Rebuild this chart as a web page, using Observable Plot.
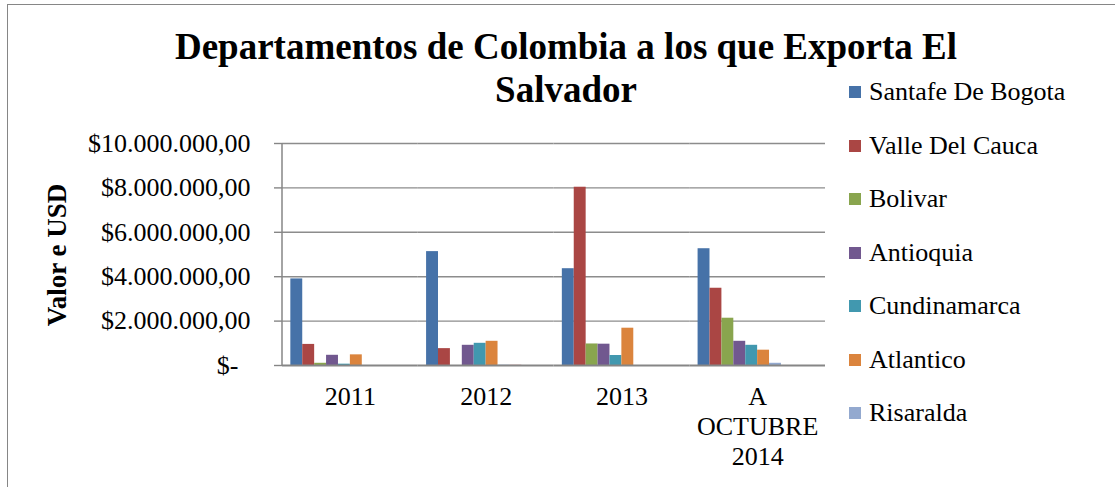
<!DOCTYPE html>
<html>
<head>
<meta charset="utf-8">
<script src="https://cdn.jsdelivr.net/npm/d3@7"></script>
<script src="https://cdn.jsdelivr.net/npm/@observablehq/plot@0.6"></script>
<style>
  html, body { margin: 0; padding: 0; background: #fff; }
  body { width: 1115px; height: 487px; overflow: hidden; position: relative; font-family: "Liberation Serif", "Times New Roman", serif; }
  #frame { position: absolute; left: 7px; top: 4px; width: 1120px; height: 500px; border: 1.5px solid #868686; box-sizing: border-box; }
  #chart { position: absolute; left: 0; top: 0; }
  #title { position: absolute; left: 66px; width: 1000px; top: 25px; text-align: center; font-family: "Liberation Serif", serif; font-weight: bold; font-size: 37px; line-height: 43px; color: #000; white-space: nowrap; }
  #ytitle { position: absolute; left: 57px; top: 255px; transform: translate(-50%, -50%) rotate(-90deg); font-family: "Liberation Serif", serif; font-weight: bold; font-size: 27px; white-space: nowrap; color: #000; }
  #legend { position: absolute; left: 849px; top: 0; }
  .row { position: absolute; left: 0; height: 30px; display: flex; align-items: center; white-space: nowrap; font-family: "Liberation Serif", serif; font-size: 26px; color: #000; }
  .row span { font-family: "Liberation Serif", serif; }
  .sw { width: 12px; height: 12px; margin-right: 8px; flex: none; }
</style>
</head>
<body>
<div id="frame"></div>
<div id="chart"></div>
<div id="title">Departamentos de Colombia a los que Exporta El<br>Salvador</div>
<div id="ytitle">Valor e USD</div>
<div id="legend"></div>
<script>
// ---- Data ----
const years = ["2011", "2012", "2013", "A OCTUBRE 2014"];
const seriesNames = ["Santafe De Bogota", "Valle Del Cauca", "Bolivar", "Antioquia", "Cundinamarca", "Atlantico", "Risaralda", "Serie 8", "Serie 9", "Serie 10"];
const santafeDeBogota = [3900000, 5130000, 4360000, 5260000];
const valleDelCauca   = [950000, 760000, 8030000, 3480000];
const bolivar         = [100000, 0, 970000, 2130000];
const antioquia       = [460000, 910000, 960000, 1090000];
const cundinamarca    = [60000, 1000000, 450000, 910000];
const atlantico       = [480000, 1090000, 1680000, 690000];
const risaralda       = [0, 15000, 0, 100000];
const serie8          = [0, 15000, 0, 0];
const serie9          = [0, 0, 0, 0];
const serie10         = [0, 0, 0, 0];
const seriesColors = ["#4672A8", "#AA4644", "#89A54E", "#71588F", "#4198AF", "#DB843D", "#93A9CF", "#D19392", "#B9CD96", "#A99BBD"];
const yTicks = [2000000, 4000000, 6000000, 8000000, 10000000];
const legendCount = 7; // only the first 7 entries fit in the reference legend

// ---- Build table ----
const seriesValues = [santafeDeBogota, valleDelCauca, bolivar, antioquia, cundinamarca, atlantico, risaralda, serie8, serie9, serie10];
const data = [];
seriesNames.forEach((s, si) => years.forEach((y, yi) => data.push({year: y, series: s, value: seriesValues[si][yi]})));

const loc = d3.formatLocale({decimal: ",", thousands: ".", grouping: [3], currency: ["$", ""]});
const fmt = loc.format("$,.2f");

let axisLineDrawn = false;
const leftAxisLine = (index, scales, values, dims) => {
  if (axisLineDrawn) return null;
  axisLineDrawn = true;
  const g = d3.create("svg:line")
    .attr("x1", dims.marginLeft).attr("x2", dims.marginLeft)
    .attr("y1", dims.marginTop).attr("y2", dims.height - dims.marginBottom)
    .attr("stroke", "#868686").attr("stroke-width", 1.5);
  return g.node();
};

const chart = Plot.plot({
  width: 1115,
  height: 487,
  marginLeft: 282,
  marginRight: 290,
  marginTop: 143,
  marginBottom: 122,
  style: {fontFamily: "Liberation Serif, Times New Roman, serif", fontSize: "26px", color: "#000", background: "transparent", overflow: "visible"},
  fx: {domain: years, padding: 0, round: false, axis: null, label: null},
  x: {domain: seriesNames, paddingInner: 0, paddingOuter: 0.7, round: false, axis: null, label: null},
  y: {domain: [0, 10000000], axis: null, label: null},
  color: {domain: seriesNames, range: seriesColors},
  marks: [
    Plot.gridY(yTicks, {stroke: "#8c8c8c", strokeOpacity: 1, strokeWidth: 1.4}),
    Plot.axisY(yTicks, {label: null, tickSize: 8, tickPadding: 24, stroke: "#868686", strokeWidth: 1.4, tickFormat: fmt, fontSize: 26}),
    Plot.axisY([0], {label: null, tickSize: 8, tickPadding: 36, stroke: "#868686", strokeWidth: 1.4, tickFormat: () => "$-", fontSize: 26}),
    Plot.barY(data, {fx: "year", x: "series", y: "value", fill: "series", inset: 0}),
    Plot.ruleY([0], {stroke: "#868686", strokeWidth: 2}),
    leftAxisLine,
    Plot.axisFx({anchor: "bottom", label: null, tickSize: 0, tickPadding: 18, fontSize: 26, lineHeight: 1.15, tickFormat: d => d.replace(/ /g, "\n")})
  ]
});
document.getElementById("chart").appendChild(chart);

// ---- Legend (HTML) ----
const legend = document.getElementById("legend");
seriesNames.slice(0, legendCount).forEach((s, i) => {
  const row = document.createElement("div");
  row.className = "row";
  row.style.top = (92 + i * 53.5 - 15) + "px";
  const sw = document.createElement("div");
  sw.className = "sw";
  sw.style.background = seriesColors[i];
  const t = document.createElement("span");
  t.textContent = s;
  row.appendChild(sw); row.appendChild(t);
  legend.appendChild(row);
});
</script>
</body>
</html>
